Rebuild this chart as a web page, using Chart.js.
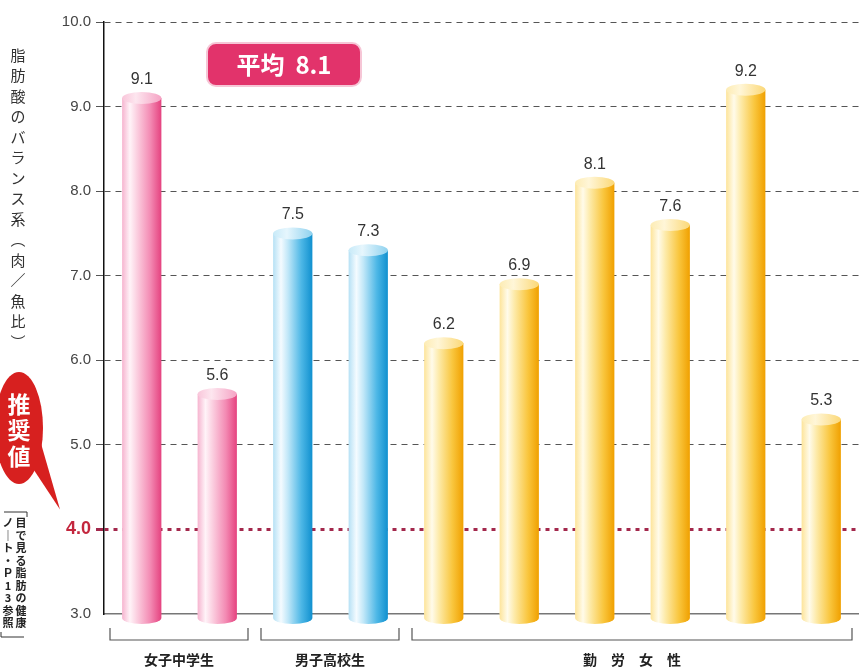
<!DOCTYPE html>
<html>
<head>
<meta charset="utf-8">
<script src="https://cdn.jsdelivr.net/npm/chart.js@4"></script>
<style>
  html, body { margin: 0; padding: 0; background: #fff; }
  #chart { display: block; }
</style>
</head>
<body>
<canvas id="chart" width="859" height="669"></canvas>
<script>
//! Data

const categories = ["女子中学生1", "女子中学生2", "男子高校生1", "男子高校生2", "勤労女性1", "勤労女性2", "勤労女性3", "勤労女性4", "勤労女性5", "勤労女性6"];
const values = [9.1, 5.6, 7.5, 7.3, 6.2, 6.9, 8.1, 7.6, 9.2, 5.3];
const barGroup = [0, 0, 1, 1, 2, 2, 2, 2, 2, 2];
const groupLabels = ["女子中学生", "男子高校生", "勤　労　女　性"];
const groupRanges = [[0, 1], [2, 3], [4, 9]];
const yTicks = [3, 4, 5, 6, 7, 8, 9, 10];
const recommended = 4.0;
const average = 8.1;

//! Colours

const palettes = [
  ["#f6b4cf", "#fff3f8", "#fbcfe0", "#f38ab3", "#e5427f"],
  ["#b6e1f5", "#f4fbff", "#c0e7f8", "#4db7e6", "#1090cf"],
  ["#fde49a", "#fffbea", "#fdeaa8", "#f9c63e", "#f0a000"],
];
const capColors = [
  ["#f9c6da", "#fde6ef", "#f5a3c4"],
  ["#c8eaf8", "#e6f6fd", "#8fd2ef"],
  ["#fdecb4", "#fff6d8", "#fbd877"],
];
const stops = [0, 0.2, 0.38, 0.72, 1];

function barGradient(ctx, left, right, pal) {
  const g = ctx.createLinearGradient(left, 0, right, 0);
  pal.forEach((c, i) => g.addColorStop(stops[i], c));
  return g;
}

//! Decorations

const decorations = {
  id: "decorations",
  afterDatasetsDraw(chart) {
    const { ctx, chartArea } = chart;
    const meta = chart.getDatasetMeta(0);
    meta.data.forEach((bar, i) => {
      const pal = palettes[barGroup[i]];
      const cap = capColors[barGroup[i]];
      const left = bar.x - bar.width / 2;
      const right = bar.x + bar.width / 2;
      const rx = bar.width / 2;
      const ry = 6;
      // rounded bottom below the axis
      ctx.save();
      ctx.fillStyle = barGradient(ctx, left, right, pal);
      ctx.beginPath();
      ctx.rect(left, chartArea.bottom - 1, bar.width, 5);
      ctx.fill();
      ctx.beginPath();
      ctx.ellipse(bar.x, chartArea.bottom + 4, rx, ry, 0, 0, Math.PI);
      ctx.fill();
      // top cap
      const g = ctx.createLinearGradient(left, 0, right, 0);
      g.addColorStop(0, cap[0]);
      g.addColorStop(0.35, cap[1]);
      g.addColorStop(1, cap[2]);
      ctx.fillStyle = g;
      ctx.beginPath();
      ctx.ellipse(bar.x, bar.y, rx, ry, 0, 0, Math.PI * 2);
      ctx.fill();
      // value label
      ctx.fillStyle = "#333";
      ctx.font = "16px 'Liberation Sans', Arial, sans-serif";
      ctx.textAlign = "center";
      ctx.textBaseline = "alphabetic";
      ctx.fillText(values[i].toFixed(1), bar.x, bar.y - 14);
      ctx.restore();
    });
  },
  afterDraw(chart) {
    const { ctx, chartArea, scales } = chart;
    const x = scales.x;
    const y = scales.y;
    ctx.save();

    // group brackets
    const step = x.width / categories.length;
    ctx.strokeStyle = "#555";
    ctx.lineWidth = 1.2;
    groupRanges.forEach((r, gi) => {
      const x1 = x.getPixelForValue(r[0]) - step / 2 + 6;
      const x2 = x.getPixelForValue(r[1]) + step / 2 - 7;
      const top = chartArea.bottom + 14;
      const bot = chartArea.bottom + 26;
      ctx.beginPath();
      ctx.moveTo(x1, top);
      ctx.lineTo(x1, bot);
      ctx.lineTo(x2, bot);
      ctx.lineTo(x2, top);
      ctx.stroke();
      ctx.fillStyle = "#222";
      ctx.font = "bold 14px 'Noto Sans CJK JP', sans-serif";
      ctx.textAlign = "center";
      ctx.textBaseline = "middle";
      ctx.fillText(groupLabels[gi], (x1 + x2) / 2, chartArea.bottom + 46);
    });

    // average badge
    ctx.fillStyle = "#e2336b";
    ctx.strokeStyle = "#f6c6d6";
    ctx.lineWidth = 2;
    ctx.beginPath();
    ctx.roundRect(207, 43, 154, 43, 9);
    ctx.fill();
    ctx.stroke();
    ctx.fillStyle = "#fff";
    ctx.font = "bold 24px 'Noto Sans CJK JP', sans-serif";
    ctx.textAlign = "center";
    ctx.textBaseline = "middle";
    ctx.fillText("平均  " + average.toFixed(1), 284, 65);

    // vertical axis title
    const title = ["脂", "肪", "酸", "の", "バ", "ラ", "ン", "ス", "系", "︵", "肉", "／", "魚", "比", "︶"];
    ctx.fillStyle = "#333";
    ctx.font = "15px 'Noto Sans CJK JP', sans-serif";
    title.forEach((ch, i) => ctx.fillText(ch, 18, 55 + i * 20.5));

    // recommended value bubble
    const ty = y.getPixelForValue(recommended);
    ctx.fillStyle = "#d7201f";
    ctx.beginPath();
    ctx.ellipse(19, 428, 24, 56, 0, 0, Math.PI * 2);
    ctx.fill();
    ctx.beginPath();
    ctx.moveTo(24, 455);
    ctx.lineTo(60, ty - 20);
    ctx.lineTo(40, 440);
    ctx.closePath();
    ctx.fill();
    ctx.fillStyle = "#fff";
    ctx.font = "bold 23px 'Noto Sans CJK JP', sans-serif";
    ["推", "奨", "値"].forEach((ch, i) => ctx.fillText(ch, 19, 404 + i * 26));

    // note
    ctx.strokeStyle = "#333";
    ctx.lineWidth = 1;
    ctx.beginPath();
    ctx.moveTo(4, 512); ctx.lineTo(27, 512); ctx.lineTo(27, 517);
    ctx.moveTo(1, 632); ctx.lineTo(1, 637); ctx.lineTo(24, 637);
    ctx.stroke();
    ctx.fillStyle = "#222";
    ctx.font = "bold 11px 'Noto Sans CJK JP', sans-serif";
    "目で見る脂肪の健康".split("").forEach((ch, i) => ctx.fillText(ch, 21, 523 + i * 12.5));
    ["ノ", "｜", "ト", "・", "Ｐ", "1", "3", "参", "照"].forEach((ch, i) => ctx.fillText(ch, 8, 523 + i * 12.5));

    ctx.restore();
  },
};

//! Chart JS

const chart = document.getElementById("chart");

new Chart(chart, {
  type: "bar",
  data: {
    labels: categories,
    datasets: [
      {
        data: values,
        backgroundColor: (c) => {
          const pal = palettes[barGroup[c.dataIndex] || 0];
          const xs = c.chart.scales.x;
          if (!xs || xs.width == null) return pal[3];
          const w = (xs.width / categories.length) * 0.52;
          const px = xs.getPixelForValue(c.dataIndex);
          return barGradient(c.chart.ctx, px - w / 2, px + w / 2, pal);
        },
        borderWidth: 0,
        barPercentage: 0.52,
        categoryPercentage: 1,
      },
    ],
  },
  options: {
    responsive: false,
    devicePixelRatio: 1,
    animation: false,
    layout: {
      padding: { top: 22, left: 0, right: 0, bottom: 0 },
    },
    plugins: {
      legend: { display: false },
      tooltip: { enabled: false },
    },
    scales: {
      x: {
        grid: { display: false },
        ticks: { display: false },
        border: { color: "#777", width: 1.5 },
        afterFit: (scale) => { scale.height = 55; },
      },
      y: {
        min: 3,
        max: 10,
        afterBuildTicks: (scale) => { scale.ticks = yTicks.map((v) => ({ value: v })); },
        afterFit: (scale) => { scale.width = 104; },
        ticks: {
          padding: 5,
          callback: (v) => Number(v).toFixed(1),
          color: (c) => (c.tick && c.tick.value === recommended ? "#c3263d" : "#444"),
          font: (c) => (c.tick && c.tick.value === recommended
            ? { family: "'Liberation Sans', Arial, sans-serif", size: 18, weight: "bold" }
            : { family: "'Liberation Sans', Arial, sans-serif", size: 15 }),
        },
        grid: {
          drawTicks: true,
          tickLength: 8,
          color: (c) => {
            if (!c.tick) return "#555";
            if (c.tick.value === 3) return "rgba(0,0,0,0)";
            if (c.tick.value === recommended) return "#a3284c";
            return "#555";
          },
          lineWidth: (c) => (c.tick && c.tick.value === recommended ? 3 : 1),
        },
        border: {
          color: "#111",
          width: 1.5,
          dash: (c) => (c.tick && c.tick.value === recommended ? [4, 5] : [6, 5]),
        },
      },
    },
  },
  plugins: [decorations],
});
</script>
</body>
</html>
